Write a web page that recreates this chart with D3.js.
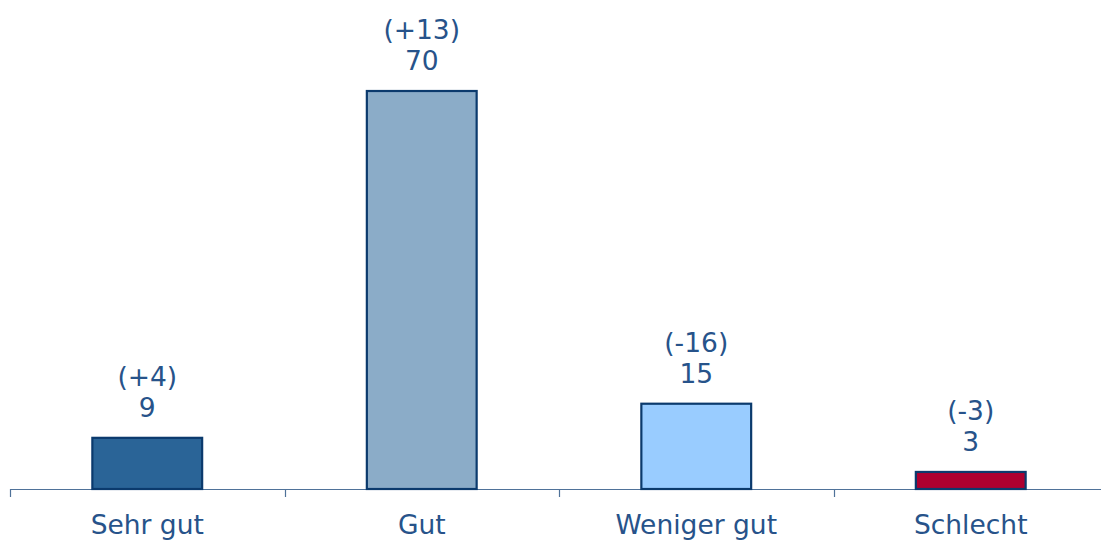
<!DOCTYPE html>
<html>
<head>
<meta charset="utf-8">
<script src="https://cdn.jsdelivr.net/npm/d3@7"></script>
<style>
  body { margin: 0; background: #fff; }
  svg text { font-family: Verdana, "DejaVu Sans", sans-serif; fill: #27538a; font-size: 26.5px; }
</style>
</head>
<body>
<svg id="chart" width="1101" height="540"></svg>
<script>
var categories = ['Sehr gut', 'Gut', 'Weniger gut', 'Schlecht'];
var values = [9, 70, 15, 3];
var changes = ['(+4)', '(+13)', '(-16)', '(-3)'];
var colors = ['#2a6497', '#8bacc8', '#99ccff', '#ad0030'];

var svg = d3.select('#chart'),
    baseY = 489,
    x = d3.scaleBand()
          .domain(categories)
          .range([10, 1108])
          .paddingInner(0.6)
          .paddingOuter(0.3),
    y = d3.scaleLinear()
          .domain([0, 70])
          .range([baseY, 91]);

// axis line, ticks sit between the categories
var axis = svg.append('g');
axis.append('line')
    .attr('x1', 10).attr('x2', 1101)
    .attr('y1', baseY + 0.5).attr('y2', baseY + 0.5)
    .attr('stroke', '#4f7299').attr('stroke-width', 1.2);

var tickXs = categories.map(function(c) { return x(c) - x.step() * x.paddingOuter(); });
axis.selectAll('line.tick')
    .data(tickXs)
  .enter().append('line')
    .attr('class', 'tick')
    .attr('x1', function(d) { return Math.round(d) + 0.5; })
    .attr('x2', function(d) { return Math.round(d) + 0.5; })
    .attr('y1', baseY)
    .attr('y2', baseY + 8)
    .attr('stroke', '#4f7299').attr('stroke-width', 1.2);

svg.selectAll('rect.bar')
    .data(values)
  .enter().append('rect')
    .attr('class', 'bar')
    .attr('x', function(d, i) { return x(categories[i]); })
    .attr('y', function(d) { return y(d); })
    .attr('width', x.bandwidth())
    .attr('height', function(d) { return baseY - y(d); })
    .attr('fill', function(d, i) { return colors[i]; })
    .attr('stroke', '#0b3a6d')
    .attr('stroke-width', 2.2);

var cx = function(i) { return x(categories[i]) + x.bandwidth() / 2; };

svg.selectAll('text.val')
    .data(values)
  .enter().append('text')
    .attr('class', 'val')
    .attr('x', function(d, i) { return cx(i); })
    .attr('y', function(d) { return y(d) - 21; })
    .attr('text-anchor', 'middle')
    .text(function(d) { return d; });

svg.selectAll('text.chg')
    .data(values)
  .enter().append('text')
    .attr('class', 'chg')
    .attr('x', function(d, i) { return cx(i); })
    .attr('y', function(d) { return y(d) - 52; })
    .attr('text-anchor', 'middle')
    .text(function(d, i) { return changes[i]; });

svg.selectAll('text.cat')
    .data(categories)
  .enter().append('text')
    .attr('class', 'cat')
    .attr('x', function(d) { return x(d) + x.bandwidth() / 2; })
    .attr('y', 534)
    .attr('text-anchor', 'middle')
    .text(function(d) { return d; });
</script>
</body>
</html>
